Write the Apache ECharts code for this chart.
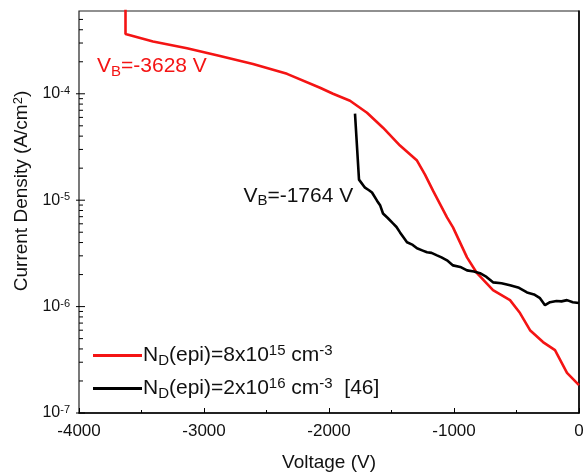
<!DOCTYPE html>
<html>
<head>
<meta charset="utf-8">
<script src="https://cdn.jsdelivr.net/npm/echarts@6/dist/echarts.min.js"></script>
<style>
  html, body { margin: 0; padding: 0; background: #fff; }
  #chart { width: 583px; height: 472px; }
</style>
</head>
<body>
<div id="chart"></div>
<script>
// red curve: N_D(epi)=8e15, [voltage, current density]
const redVolt = [-3628, -3628, -3408, -3136, -2872, -2608, -2336, -2072, -1968, -1832, -1696, -1568, -1432, -1296, -1232, -1168, -1056, -1008, -896, -816, -688, -552, -472, -392, -288, -192, -96, 0];
const redJ = [1e-3, 3.65e-4, 3.1e-4, 2.68e-4, 2.27e-4, 1.91e-4, 1.54e-4, 1.14e-4, 1.0e-4, 8.6e-5, 6.64e-5, 4.8e-5, 3.26e-5, 2.36e-5, 1.74e-5, 1.23e-5, 6.9e-6, 5.55e-6, 2.9e-6, 2.06e-6, 1.43e-6, 1.15e-6, 8.7e-7, 6.0e-7, 4.64e-7, 3.9e-7, 2.38e-7, 1.83e-7];

// black curve: N_D(epi)=2e16 [46]
const blackVolt = [-1792, -1760, -1712, -1680, -1656, -1616, -1590, -1568, -1530, -1488, -1460, -1432, -1376, -1330, -1296, -1250, -1216, -1180, -1136, -1100, -1056, -1008, -950, -896, -840, -792, -740, -688, -620, -552, -480, -416, -360, -312, -272, -232, -180, -140, -96, -50, 0];
const blackJ = [6.5e-5, 1.56e-5, 1.31e-5, 1.24e-5, 1.18e-5, 9.9e-6, 8.9e-6, 7.5e-6, 6.8e-6, 6.05e-6, 5.6e-6, 4.98e-6, 4.02e-6, 3.8e-6, 3.53e-6, 3.36e-6, 3.24e-6, 3.2e-6, 3.03e-6, 2.9e-6, 2.72e-6, 2.44e-6, 2.36e-6, 2.19e-6, 2.14e-6, 2.06e-6, 1.9e-6, 1.69e-6, 1.66e-6, 1.59e-6, 1.5e-6, 1.36e-6, 1.3e-6, 1.2e-6, 1.03e-6, 1.1e-6, 1.13e-6, 1.12e-6, 1.15e-6, 1.1e-6, 1.08e-6];

const xTicks = [-4000, -3000, -2000, -1000, 0];
const yMajorTicks = [1e-7, 1e-6, 1e-5, 1e-4];
const yMin = 1e-7;
const yMax = 6e-4;

// minor ticks of the log axis (2..9 x 10^n)
const yMinorTicks = [];
for (let e = -7; e <= -4; e++) {
    for (let m = 2; m <= 9; m++) {
        const v = m * Math.pow(10, e);
        if (v < yMax) yMinorTicks.push(v);
    }
}

const redName = 'N{sub|D}(epi)=8x10{sup|15} cm{sup|-3}';
const blackName = 'N{sub|D}(epi)=2x10{sup|16} cm{sup|-3}  [46]';

const font = 'Liberation Sans';
const red = '#f41414';
const chart = echarts.init(document.getElementById('chart'));

// short horizontal ticks on the left axis, placed through the axis scale
const tickSeries = (values, from, to) => ({
    type: 'custom',
    silent: true,
    clip: false,
    data: values.map(v => [xTicks[0], v]),
    encode: { x: 0, y: 1 },
    renderItem: (params, api) => {
        const p = api.coord([api.value(0), api.value(1)]);
        return {
            type: 'line',
            shape: { x1: p[0] + from, y1: p[1], x2: p[0] + to, y2: p[1] },
            style: { stroke: '#000', lineWidth: 1 }
        };
    }
});

const option = {
    animation: false,
    textStyle: { fontFamily: font },
    grid: {
        left: 79, right: 4, top: 11, bottom: 59,
        outerBoundsMode: 'none',
        containLabel: false,
        show: true, borderColor: '#222', borderWidth: 1.2
    },
    legend: {
        data: [redName, blackName],
        orient: 'vertical',
        left: 88,
        top: 338,
        itemWidth: 49,
        itemHeight: 3,
        itemGap: 8,
        icon: 'rect',
        textStyle: {
            fontSize: 21,
            color: '#111',
            padding: [0, 0, 0, -4],
            rich: {
                sub: { fontSize: 15, verticalAlign: 'bottom', padding: [10, 0, 0, 0] },
                sup: { fontSize: 15, verticalAlign: 'top', padding: [0, 0, 10, 0] }
            }
        }
    },
    xAxis: {
        type: 'value',
        min: -4000,
        max: 0,
        interval: 1000,
        name: 'Voltage (V)',
        nameLocation: 'middle',
        nameGap: 40,
        nameTextStyle: { fontSize: 19, color: '#111' },
        axisLine: { onZero: false, lineStyle: { color: '#000', width: 1.5 } },
        axisTick: { inside: true, length: 5, lineStyle: { color: '#000' } },
        minorTick: { show: true, splitNumber: 2, length: 3, lineStyle: { color: '#000' } },
        splitLine: { show: false },
        axisLabel: {
            fontSize: 17, color: '#111', margin: 10,
            formatter: v => String(v)
        }
    },
    yAxis: {
        type: 'log',
        min: yMin,
        max: yMax,
        logBase: 10,
        splitNumber: 4,
        name: 'Current Density (A/cm{sup|2})',
        nameLocation: 'middle',
        nameGap: 38,
        nameTextStyle: {
            fontSize: 19, color: '#111',
            padding: [0, 0, 0, 42],
            rich: { sup: { fontSize: 13, verticalAlign: 'top', padding: [0, 0, 8, 0] } }
        },
        axisLine: { lineStyle: { color: '#000', width: 1.5 } },
        axisTick: { show: false },
        splitLine: { show: false },
        axisLabel: {
            fontSize: 16, color: '#111', margin: 9,
            formatter: v => {
                const e = Math.log10(v);
                if (Math.abs(e - Math.round(e)) > 1e-6) return '';
                return '10{sup|' + Math.round(e) + '}';
            },
            rich: { sup: { fontSize: 11, verticalAlign: 'top', padding: [0, 0, 6, 0] } }
        }
    },
    series: [
        {
            name: redName,
            type: 'line',
            data: redVolt.map((v, i) => [v, redJ[i]]),
            showSymbol: false,
            color: red,
            lineStyle: { width: 2.6, color: red },
            markPoint: {
                symbol: 'circle', symbolSize: 0,
                data: [{ coord: [-3856, 1.8e-4] }],
                label: {
                    show: true, position: 'right', distance: 0,
                    formatter: 'V{sub|B}=-3628 V',
                    fontSize: 21, color: red,
                    rich: { sub: { fontSize: 15, verticalAlign: 'bottom', padding: [10, 0, 0, 0], color: red } }
                }
            }
        },
        {
            name: blackName,
            type: 'line',
            data: blackVolt.map((v, i) => [v, blackJ[i]]),
            showSymbol: false,
            color: '#000',
            lineStyle: { width: 2.6, color: '#000' },
            markPoint: {
                symbol: 'circle', symbolSize: 0,
                data: [{ coord: [-2685, 1.1e-5] }],
                label: {
                    show: true, position: 'right', distance: 0,
                    formatter: 'V{sub|B}=-1764 V',
                    fontSize: 21, color: '#111',
                    rich: { sub: { fontSize: 15, verticalAlign: 'bottom', padding: [10, 0, 0, 0], color: '#111' } }
                }
            }
        },
        tickSeries(yMajorTicks, -3, 6),
        tickSeries(yMinorTicks, 0, 4)
    ]
};

chart.setOption(option);
</script>
</body>
</html>
